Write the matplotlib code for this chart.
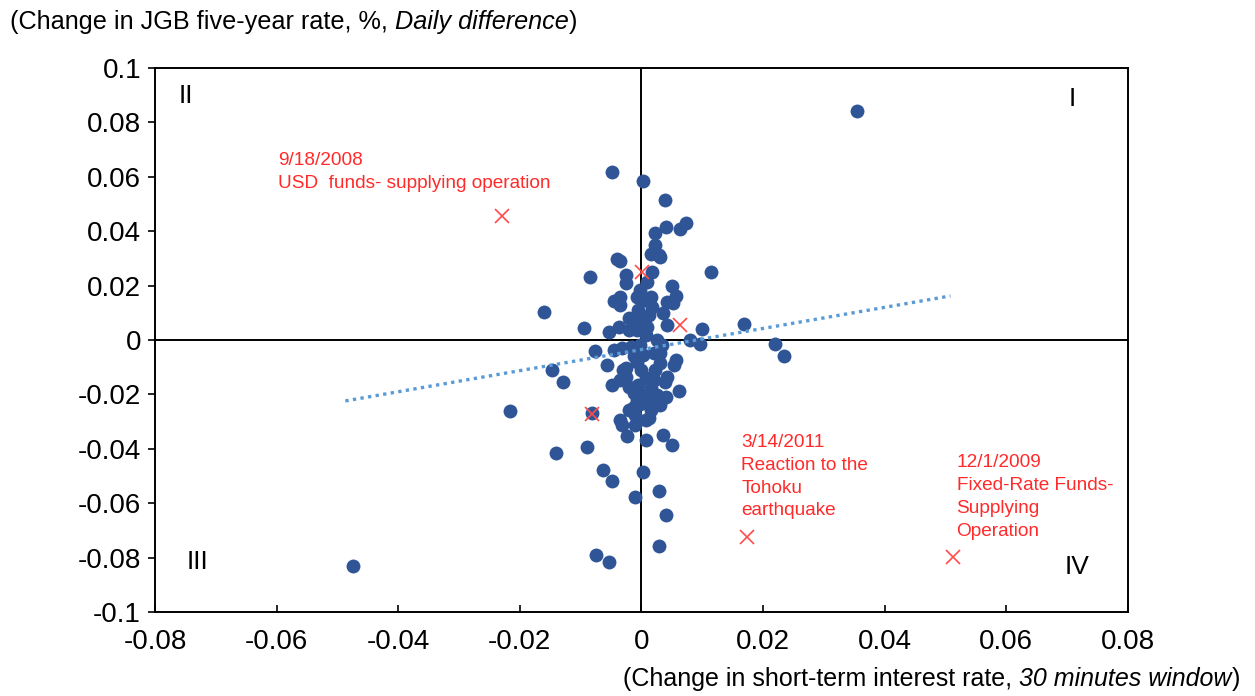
import numpy as np
import matplotlib
matplotlib.use("Agg")
import matplotlib.pyplot as plt
from matplotlib.ticker import FuncFormatter

plt.rcParams['font.family'] = ['Liberation Sans', 'DejaVu Sans']

# daily observations: change in short-term rate (x) vs change in JGB 5y rate (y)
short_rate = [
    0.0355, -0.0049, 0.0003, 0.0038, 0.0074, 0.0064, 0.0041, 0.0023, 0.0023, 0.0015,
    0.0031, -0.0040, -0.0035, 0.0114, -0.0084, -0.0026, -0.0026, 0.0018, 0.0009, -0.0045,
    -0.0036, -0.0036, -0.0007, 0.0015, 0.0050, 0.0056, 0.0042, 0.0051, -0.0161, 0.0028,
    0.0012, 0.0009, 0.0036, 0.0042, 0.0100, 0.0080, 0.0097, 0.0168, 0.0220, 0.0235,
    0.0056, 0.0031, -0.0095, -0.0021, -0.0037, -0.0054, 0.0018, -0.0076, -0.0046, -0.0032,
    -0.0018, 0.0020, 0.0031, 0.0053, -0.0147, -0.0129, -0.0056, -0.0026, -0.0026, -0.0035,
    -0.0048, -0.0021, -0.0013, 0.0042, 0.0039, 0.0020, 0.0015, 0.0061, 0.0041, 0.0015,
    -0.0007, -0.0013, 0.0015, -0.0010, 0.0012, -0.0081, -0.0036, -0.0032, -0.0010, -0.0024,
    0.0036, 0.0050, -0.0089, -0.0140, -0.0063, -0.0048, 0.0003, -0.0010, 0.0028, 0.0041,
    0.0028, -0.0075, -0.0054, -0.0475, -0.0217,
    -0.0002, 0.0005, -0.0005, 0.0002, -0.0008, 0.0007, -0.0003, 0.0003, -0.0007, 0.0000,
    0.0008, -0.0005, 0.0005, -0.0002, 0.0007, -0.0015, -0.0021, -0.0015, 0.0026, 0.0034,
    0.0023, 0.0025, 0.0031, 0.0007, -0.0021, -0.0031, -0.0013,
]
jgb_rate = [
    0.0842, 0.0619, 0.0586, 0.0515, 0.0430, 0.0408, 0.0416, 0.0395, 0.0349, 0.0318,
    0.0306, 0.0296, 0.0291, 0.0250, 0.0230, 0.0239, 0.0211, 0.0251, 0.0214, 0.0144,
    0.0159, 0.0129, 0.0159, 0.0159, 0.0199, 0.0163, 0.0141, 0.0135, 0.0103, 0.0312,
    0.0092, 0.0049, 0.0098, 0.0055, 0.0040, 0.0000, -0.0015, 0.0059, -0.0015, -0.0058,
    -0.0074, -0.0048, 0.0045, 0.0080, 0.0049, 0.0028, 0.0123, -0.0039, -0.0037, -0.0031,
    -0.0025, -0.0049, -0.0086, -0.0092, -0.0110, -0.0153, -0.0092, -0.0104, -0.0135, -0.0147,
    -0.0165, -0.0171, -0.0196, -0.0135, -0.0153, -0.0147, -0.0178, -0.0187, -0.0211, -0.0221,
    -0.0221, -0.0245, -0.0257, -0.0276, -0.0288, -0.0270, -0.0294, -0.0312, -0.0312, -0.0353,
    -0.0349, -0.0386, -0.0392, -0.0414, -0.0478, -0.0518, -0.0485, -0.0577, -0.0556, -0.0645,
    -0.0757, -0.0790, -0.0817, -0.0830, -0.0260,
    0.0184, 0.0147, 0.0110, 0.0074, 0.0037, 0.0018, -0.0018, -0.0055, -0.0081, -0.0110,
    -0.0140, -0.0165, -0.0202, -0.0235, -0.0294, -0.0025, 0.0037, 0.0074, 0.0000, -0.0018,
    -0.0110, -0.0202, -0.0239, -0.0367, -0.0257, -0.0110, -0.0059,
]

# event days
event_x = [-0.0229, 0.0001, 0.0063, -0.0082, 0.0174, 0.0512]
event_y = [0.0456, 0.0250, 0.0055, -0.0272, -0.0724, -0.0798]

# linear trend endpoints
trend_x = [-0.0487, 0.0508]
trend_y = [-0.0224, 0.0162]

xticks = np.arange(-0.08, 0.0801, 0.02)
yticks = np.arange(-0.1, 0.1001, 0.02)

fig = plt.figure(figsize=(12.55, 6.96), dpi=100)
ax = fig.add_axes([0.1235, 0.1207, 0.7753, 0.7816])

ax.axhline(0, color='black', lw=1.4, zorder=1)
ax.axvline(0, color='black', lw=1.4, zorder=1)

ax.plot(short_rate, jgb_rate, 'o', color='#2F5597', markersize=10,
        markeredgewidth=0, zorder=3)
ax.plot(trend_x, trend_y, color='#5B9BD5', lw=2.4, linestyle=(0, (1, 1.3)),
        zorder=4)
ax.plot(event_x, event_y, 'x', color='#FF4B4B', markersize=10.5,
        markeredgewidth=1.2, zorder=5)

ax.set_xlim(-0.08, 0.08)
ax.set_ylim(-0.1, 0.1)
ax.set_xticks(xticks)
ax.set_yticks(yticks)
fmt = FuncFormatter(lambda v, p: ('%g' % round(v, 3)).replace('\u2212', '-'))
ax.xaxis.set_major_formatter(fmt)
ax.yaxis.set_major_formatter(fmt)
ax.tick_params(axis='x', direction='in', length=5, width=1.2, pad=12,
               labelsize=20)
ax.tick_params(axis='y', direction='out', length=5, width=1.2, pad=5,
               labelsize=20)
for s in ax.spines.values():
    s.set_linewidth(1.4)

# quadrant numbers
ax.text(-0.075, 0.0897, 'II', fontsize=19, ha='center', va='center')
ax.text(0.0709, 0.0885, 'I', fontsize=19, ha='center', va='center')
ax.text(-0.073, -0.0816, 'III', fontsize=19, ha='center', va='center')
ax.text(0.0717, -0.0834, 'IV', fontsize=19, ha='center', va='center')

red = '#FF2A2A'
ax.text(-0.0597, 0.0690, '9/18/2008\nUSD  funds- supplying operation',
        color=red, fontsize=13.7, va='top', ha='left', linespacing=1.45)
ax.text(0.0164, -0.0345, '3/14/2011\nReaction to the\nTohoku\nearthquake',
        color=red, fontsize=13.7, va='top', ha='left', linespacing=1.45)
ax.text(0.0518, -0.0420, '12/1/2009\nFixed-Rate Funds-\nSupplying\nOperation',
        color=red, fontsize=13.7, va='top', ha='left', linespacing=1.45)

# axis captions with italic part
t1 = fig.text(10 / 1255, 1 - 22 / 696, '(Change in JGB five-year rate, %, ',
              fontsize=18.2, va='center', ha='left')
t2 = ax.annotate('Daily difference', xy=(1, 0), xycoords=t1, va='bottom',
                 ha='left', fontsize=18.2, style='italic')
ax.annotate(')', xy=(1, 0), xycoords=t2, va='bottom', ha='left', fontsize=18.2)

b3 = fig.text(1240 / 1255, 1 - 679 / 696, ')', fontsize=18, va='center',
              ha='right')
b2 = ax.annotate('30 minutes window', xy=(0, 0), xycoords=b3, va='bottom',
                 ha='right', fontsize=18, style='italic')
ax.annotate('(Change in short-term interest rate, ', xy=(0, 0), xycoords=b2,
            va='bottom', ha='right', fontsize=18)

fig.savefig('out.png', dpi=100)
